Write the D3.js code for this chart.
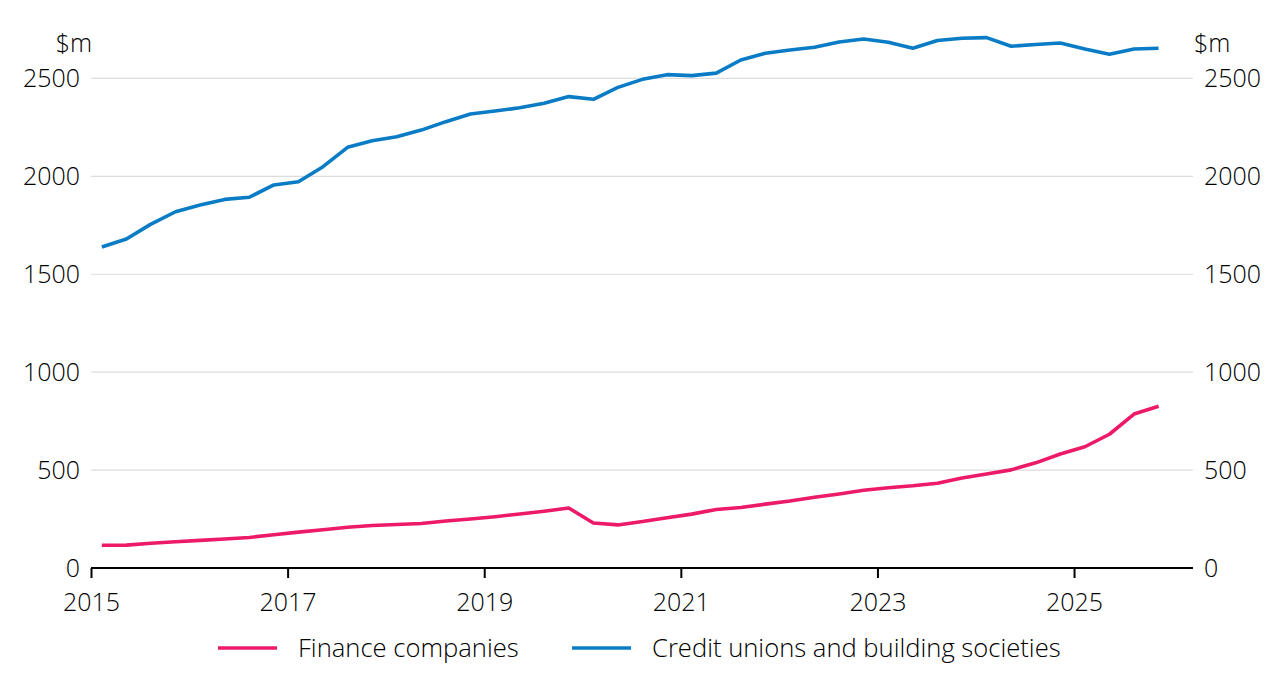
<!DOCTYPE html>
<html>
<head>
<meta charset="utf-8">
<script src="https://cdn.jsdelivr.net/npm/d3@7"></script>
<style>
  body { margin: 0; background: #fff; }
  svg text { font-family: "Open Sans", "Noto Sans", sans-serif; font-weight: 300; fill: #000; }
</style>
</head>
<body>
<svg id="chart" width="1279" height="683"></svg>
<script>
// quarterly data, plotted mid-quarter
var quarters = [
  "2015Q1","2015Q2","2015Q3","2015Q4","2016Q1","2016Q2","2016Q3","2016Q4",
  "2017Q1","2017Q2","2017Q3","2017Q4","2018Q1","2018Q2","2018Q3","2018Q4",
  "2019Q1","2019Q2","2019Q3","2019Q4","2020Q1","2020Q2","2020Q3","2020Q4",
  "2021Q1","2021Q2","2021Q3","2021Q4","2022Q1","2022Q2","2022Q3","2022Q4",
  "2023Q1","2023Q2","2023Q3","2023Q4","2024Q1","2024Q2","2024Q3","2024Q4",
  "2025Q1","2025Q2","2025Q3","2025Q4"
];

// $m
var financeCompanies = [
  116, 117, 126, 134, 141, 148, 156, 170, 183, 195, 208, 217, 222, 227, 240, 250,
  262, 276, 290, 306, 230, 220, 237, 257, 275, 299, 309, 326, 342, 361, 378, 397,
  410, 420, 433, 460, 480, 501, 537, 582, 619, 683, 786, 826
];
var creditUnions = [
  1639, 1680, 1756, 1819, 1853, 1882, 1893, 1956, 1972, 2049, 2148, 2182, 2202, 2236, 2279, 2318,
  2333, 2350, 2373, 2407, 2393, 2454, 2495, 2519, 2514, 2527, 2594, 2628, 2645, 2659, 2686, 2701,
  2684, 2654, 2693, 2705, 2708, 2664, 2673, 2681, 2650, 2623, 2650, 2654
];

var yTicks = [0, 500, 1000, 1500, 2000, 2500];
var xTicks = [2015, 2017, 2019, 2021, 2023, 2025];

var seriesNames = ["Finance companies", "Credit unions and building societies"];
var seriesColors = ["#ec1a68", "#0a7cc6"];

//////////////////////////////////////////////////
var svg = d3.select("#chart");
var left = 91, right = 1193, bottom = 568;

// quarter label -> decimal year
var qPos = function(q){
  return +q.slice(0, 4) + (+q.slice(5) - 1) * 0.25 + 0.11;
};

var x = d3.scaleLinear().domain([2015, 2026.21]).range([left, right]);
var y = d3.scaleLinear().domain([0, 2750]).range([bottom, bottom - 2750 * 0.19585]);

// grid
svg.append("g").selectAll("line")
  .data(yTicks.filter(function(d){ return d > 0; }))
  .enter().append("line")
  .attr("x1", left).attr("x2", right)
  .attr("y1", function(d){ return y(d); }).attr("y2", function(d){ return y(d); })
  .attr("stroke", "#dcdcdc").attr("stroke-width", 1.2);

// left / right value axes (text only)
var yl = svg.append("g").attr("transform", "translate(" + left + ",0)")
  .call(d3.axisLeft(y).tickValues(yTicks).tickSize(0).tickPadding(11).tickFormat(d3.format("d")));
var yr = svg.append("g").attr("transform", "translate(" + right + ",0)")
  .call(d3.axisRight(y).tickValues(yTicks).tickSize(0).tickPadding(11).tickFormat(d3.format("d")));
[yl, yr].forEach(function(g){
  g.select(".domain").remove();
  g.selectAll("text").attr("font-size", 25).attr("font-family", null).attr("fill", "#000");
});

svg.append("text").attr("x", 92).attr("y", 52).attr("text-anchor", "end")
  .attr("font-size", 25).text("$m");
svg.append("text").attr("x", 1194).attr("y", 52).attr("text-anchor", "start")
  .attr("font-size", 25).text("$m");

// x axis
var xa = svg.append("g").attr("transform", "translate(0," + bottom + ")")
  .call(d3.axisBottom(x).tickValues(xTicks).tickSize(10).tickPadding(15).tickFormat(d3.format("d")));
xa.select(".domain").attr("d", "M" + left + ",0H" + right).attr("stroke", "#000").attr("stroke-width", 2.2);
xa.selectAll(".tick line").attr("stroke", "#000").attr("stroke-width", 2);
xa.selectAll("text").attr("font-size", 25).attr("font-family", null).attr("fill", "#000");

// lines
var line = d3.line()
  .x(function(d, i){ return x(qPos(quarters[i])); })
  .y(function(d){ return y(d); });

[financeCompanies, creditUnions].forEach(function(vals, k){
  svg.append("path")
    .attr("d", line(vals))
    .attr("fill", "none")
    .attr("stroke", seriesColors[k])
    .attr("stroke-width", 3.6)
    .attr("stroke-linejoin", "round");
});

// legend
var legX = [218, 572];
seriesNames.forEach(function(name, k){
  var g = svg.append("g").attr("transform", "translate(" + legX[k] + ",648)");
  g.append("line").attr("x1", 0).attr("x2", 59).attr("y1", 0).attr("y2", 0)
    .attr("stroke", seriesColors[k]).attr("stroke-width", 3.6);
  g.append("text").attr("x", 80).attr("y", 9).attr("font-size", 25.6).text(name);
});
</script>
</body>
</html>
